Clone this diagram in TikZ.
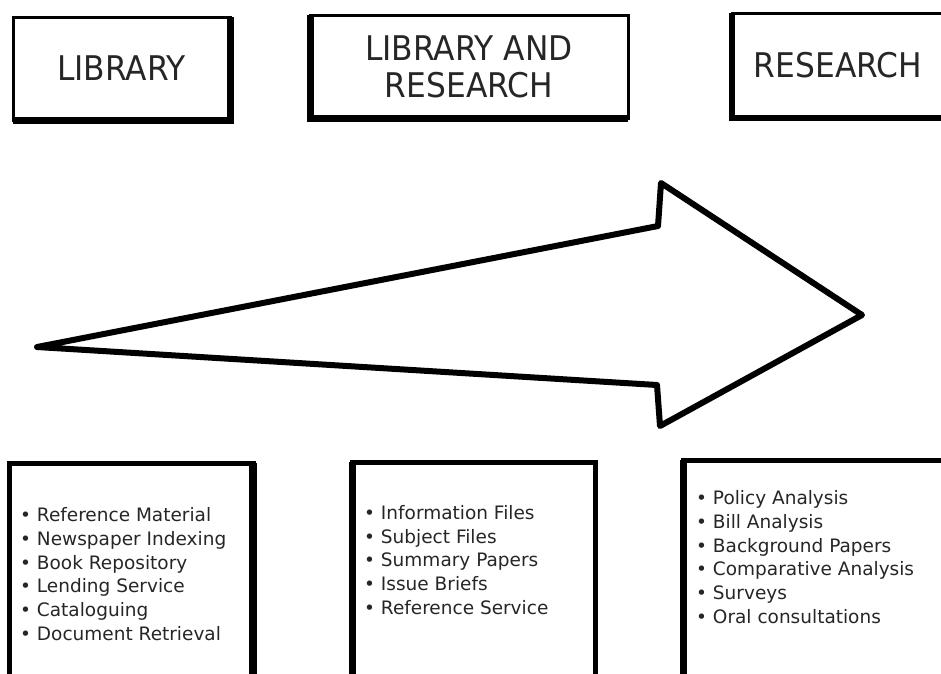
\documentclass[tikz,border=0pt]{standalone}
\usepackage{fontspec}
\setmainfont{DejaVu Sans}
\newfontfamily\headfont[FakeStretch=0.92]{DejaVu Sans}
\usepackage{tikz}

\begin{document}
\begin{tikzpicture}[x=1pt,y=-1pt,
  head/.style={rectangle,draw,line width=3pt,outer sep=0pt,inner sep=0pt,align=center,text=black!85,font=\headfont\fontsize{34}{37}\selectfont},
  frame/.style={rectangle,draw,line width=5pt,outer sep=0pt,inner sep=0pt},
  items/.style={anchor=west,inner sep=0pt,align=left,text=black!85,font=\fontsize{18.5}{23.8}\selectfont}]
\useasboundingbox (0,0) rectangle (941,673);
% top row
\node [head,minimum width=217pt,minimum height=103pt] (lib) at (121.5,68.5) {LIBRARY};
\node [head,minimum width=318pt,minimum height=103pt] (libres) at (469,66.5) {LIBRARY AND\\RESEARCH};
\node [head,minimum width=212pt,minimum height=105pt] (res) at (838,65.5) {RESEARCH};
\draw [line width=7pt] (lib.south west) -- (lib.south east) -- (lib.north east);
\draw [line width=7pt] (libres.north west) -- (libres.south west) -- (libres.south east);
\draw [line width=6pt] (res.north west) -- (res.south west) -- (res.south east);

% the arrow
\draw [line width=6pt,line join=round] (37,347) -- (658,226) -- (661,183) -- (862,315)
  -- (660,426) -- (657,385) -- cycle;

% bottom row
\node [frame,minimum width=244pt,minimum height=237pt] (libbox) at (131,581.5) {};
\node [frame,minimum width=243pt,minimum height=238pt] (libresbox) at (473.5,581) {};
\node [frame,minimum width=261pt,minimum height=240pt] (resbox) at (813.5,580) {};
\draw [line width=8pt] (libbox.north east) -- (libbox.south east);
\draw [line width=7pt] (libresbox.north west) -- (libresbox.south west);
\draw [line width=7pt] (resbox.north west) -- (resbox.south west);

\node [items] (libitems) at (20,574) {• Reference Material\\• Newspaper Indexing\\• Book Repository\\• Lending Service\\• Cataloguing\\• Document Retrieval};
\node [items] (libresitems) at (364,560) {• Information Files\\• Subject Files\\• Summary Papers\\• Issue Briefs\\• Reference Service};
\node [items] (resitems) at (696,557) {• Policy Analysis\\• Bill Analysis\\• Background Papers\\• Comparative Analysis\\• Surveys\\• Oral consultations};
\end{tikzpicture}
\end{document}
